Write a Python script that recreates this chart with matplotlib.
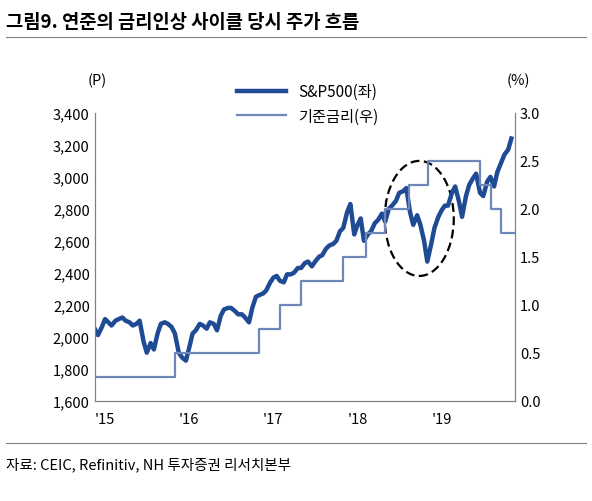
import matplotlib
matplotlib.use("Agg")
import matplotlib.pyplot as plt
import matplotlib.dates as mdates
from matplotlib.patches import Ellipse
import pandas as pd

plt.rcParams['font.family'] = ['Noto Sans CJK KR', 'DejaVu Sans']

spx_dates = pd.date_range("2015-01-01", "2019-12-31", freq="SMS")
spx_vals = [2050, 2010, 2060, 2110, 2090, 2070, 2100, 2110, 2120, 2100, 2090, 2070,
            2080, 2100, 1970, 1900, 1960, 1920, 2020, 2080, 2090, 2080, 2060, 2020,
            1900, 1870, 1850, 1930, 2020, 2040, 2080, 2070, 2050, 2090, 2080, 2040,
            2130, 2170, 2180, 2180, 2160, 2140, 2140, 2120, 2090, 2180, 2250, 2260,
            2270, 2290, 2340, 2370, 2380, 2350, 2340, 2390, 2390, 2400, 2430, 2430,
            2460, 2470, 2440, 2470, 2500, 2510, 2550, 2570, 2580, 2600, 2660, 2680,
            2780, 2830, 2640, 2700, 2740, 2600, 2640, 2660, 2710, 2730, 2770, 2720,
            2800, 2820, 2850, 2900, 2910, 2930, 2780, 2700, 2760, 2700, 2600, 2470,
            2580, 2680, 2750, 2790, 2820, 2820, 2900, 2940, 2850, 2750, 2880, 2950,
            2990, 3020, 2900, 2880, 2970, 3000, 2940, 3030, 3090, 3140, 3170, 3240]

rate_dates = pd.to_datetime(["2015-01-01", "2015-12-17", "2016-12-15", "2017-03-16",
                             "2017-06-15", "2017-12-14", "2018-03-22", "2018-06-14",
                             "2018-09-27", "2018-12-20", "2019-08-01", "2019-09-19",
                             "2019-10-31", "2019-12-31"])
rate_vals = [0.25, 0.5, 0.75, 1.0, 1.25, 1.5, 1.75, 2.0, 2.25, 2.5, 2.25, 2.0, 1.75, 1.75]

fig = plt.figure(figsize=(5.92, 5.02), dpi=100)
ax = fig.add_axes([0.16, 0.2, 0.71, 0.573])
ax2 = ax.twinx()

l1, = ax.plot(spx_dates, spx_vals, color="#1f4a94", lw=3.2, label="S&P500(좌)")
l2, = ax2.plot(rate_dates, rate_vals, color="#6d88b8", lw=1.6, drawstyle="steps-post", label="기준금리(우)")

ax.set_ylim(1600, 3400)
ax.set_yticks(range(1600, 3401, 200))
ax.set_yticklabels([f"{v:,}" for v in range(1600, 3401, 200)])
ax2.set_ylim(0, 3.0)
ax2.set_yticks([0, 0.5, 1.0, 1.5, 2.0, 2.5, 3.0])
ax2.set_yticklabels(["0.0", "0.5", "1.0", "1.5", "2.0", "2.5", "3.0"])
ax.set_xlim(pd.Timestamp("2015-01-01"), pd.Timestamp("2019-12-31"))
ax.xaxis.set_major_locator(mdates.YearLocator())
ax.xaxis.set_major_formatter(mdates.DateFormatter("'%y"))
for a in (ax, ax2):
    a.tick_params(labelsize=10.5, length=0)
    for s in a.spines.values():
        s.set_color("#808080")
    a.spines['top'].set_visible(False)
ax.tick_params(axis='x', pad=8)
for lab in ax.get_xticklabels():
    lab.set_horizontalalignment('left')

ax.add_patch(Ellipse((mdates.date2num(pd.Timestamp("2018-11-10")), 2740),
                     width=300, height=720, fill=False, ls=(0, (4, 2)), lw=1.6, color="black"))

fig.text(0.165, 0.83, "(P)", fontsize=10.5, ha="center")
fig.text(0.875, 0.83, "(%)", fontsize=10.5, ha="center")
fig.legend(handles=[l1, l2], loc="upper center", bbox_to_anchor=(0.52, 0.86),
           frameon=False, fontsize=11, handlelength=3.2)

fig.text(0.01, 0.945, "그림9. 연준의 금리인상 사이클 당시 주가 흐름", fontsize=13.5, fontweight="bold")
fig.add_artist(plt.Line2D([0.01, 0.99], [0.925, 0.925], color="#808080", lw=0.8))
fig.add_artist(plt.Line2D([0.01, 0.99], [0.115, 0.115], color="#808080", lw=0.8))
fig.text(0.01, 0.065, "자료: CEIC, Refinitiv, NH 투자증권 리서치본부", fontsize=10.5)

fig.savefig("out.png", dpi=100)
